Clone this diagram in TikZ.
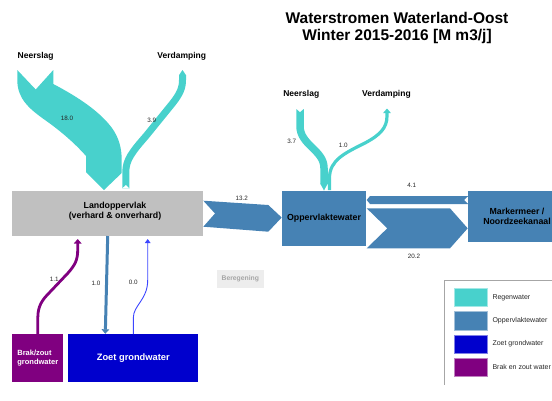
\documentclass[tikz,border=0pt]{standalone}
\usepackage{fontspec}
\setmainfont{Liberation Sans}
\usepackage{tikz}
\usetikzlibrary{arrows.meta,positioning}
\definecolor{wlregen}{RGB}{72,209,204}
\definecolor{wlopp}{RGB}{70,130,180}
\definecolor{wlzoet}{RGB}{0,0,205}
\definecolor{wlbrak}{RGB}{128,0,128}
\definecolor{wlgrey}{RGB}{192,192,192}
\definecolor{wlthin}{RGB}{60,70,255}
\tikzstyle{box} = [inner sep=0pt, align=center, font=\bfseries\fontsize{8.8}{10.5}\selectfont]
\tikzstyle{lbl} = [font=\bfseries\fontsize{8.5}{10}\selectfont]
\tikzstyle{val} = [font=\fontsize{6.3}{7}\selectfont, text=black!85]
\tikzstyle{leg} = [font=\fontsize{7}{8}\selectfont, text=black!85, inner sep=0pt, anchor=west]
\tikzstyle{pipe} = [-{Triangle[width=7.5pt,length=4.5pt]}]

\begin{document}
\begin{tikzpicture}[x=1pt, y=-1pt]
\useasboundingbox (0,0) rectangle (552,400);
% Title
\node[font=\bfseries\fontsize{15.5}{17}\selectfont, align=center] (title) at (397,27.5) {Waterstromen Waterland-Oost\\Winter 2015-2016 [M m3/j]};

% Boxes
\node[box, fill=wlgrey, minimum width=191pt, minimum height=45pt] (land) at (107.5,213.5) {};
\node[box] (landtxt) at (115,211) {Landoppervlak\\(verhard \& onverhard)};
\node[box, fill=wlopp, minimum width=83.4pt, minimum height=55pt] (opp) at (324,218.5) {Oppervlaktewater};
\node[box, fill=wlopp, minimum width=97.4pt, minimum height=50.7pt] (mark) at (517,216.3) {Markermeer /\\Noordzeekanaal};
\node[box, fill=wlbrak, text=white, minimum width=51pt, minimum height=47.4pt, font=\bfseries\fontsize{7.5}{8.6}\selectfont, align=left] (brak) at (37.8,358) {Brak/zout\\grondwater};
\node[box, fill=wlzoet, text=white, minimum width=130pt, minimum height=47.4pt, font=\bfseries\fontsize{9.3}{11}\selectfont] (zoet) at (133.3,358) {Zoet grondwater};
\node[box, fill=black!7, text=black!35, minimum width=47.3pt, minimum height=18.3pt, font=\bfseries\fontsize{6.8}{8}\selectfont] (bereg) at (240.3,279.2) {Beregening};

% Labels
\node[lbl] (nslL) at (35.7,56.7) {Neerslag};
\node[lbl] (vdpL) at (181.7,56.7) {Verdamping};
\node[lbl] (nslR) at (301.3,94.3) {Neerslag};
\node[lbl] (vdpR) at (386.4,94.3) {Verdamping};

% Rain and evaporation on land
\fill[wlregen] (17.3,70) -- (35.7,89.5) -- (53.3,70) -- (53.3,84) .. controls (80,98) and (100,112) .. (112,128) .. controls (119,138) and (121.7,148) .. (121.7,160) -- (121.7,173) -- (104,190) -- (86,172) -- (86,156) .. controls (72,140) and (55,127) .. (45,120) .. controls (28,108) and (17.3,98) .. (17.3,80) -- cycle;
\node[val] (v18) at (67,118) {18.0};
\coordinate (e39a) at (125.8,188.5);
\coordinate (e39b) at (182.5,75);
\draw[wlregen, line width=7pt] (e39a) -- (125.8,172) .. controls (125.8,160) and (132,152) .. (146,136) -- (172,104) .. controls (180,94) and (182.5,88) .. (182.5,80) -- (e39b);
\fill[wlregen] (179,75.2) -- (182.5,70) -- (186,75.2) -- cycle;
\fill[white] (122,188.7) -- (125.8,185) -- (129.6,188.7) -- cycle;
\node[val] (v39) at (151.7,120) {3.9};

% Rain and evaporation on surface water
\coordinate (r37a) at (300,108.3);
\coordinate (r37b) at (324,184);
\draw[wlregen, line width=7.5pt] (r37a) -- (300,126) .. controls (300,145) and (324,150) .. (324,168) -- (r37b);
\fill[wlregen] (320.2,183.5) -- (324,190.5) -- (327.8,183.5) -- cycle;
\fill[white] (295.5,108.2) -- (300,112) -- (304.5,108.2) -- cycle;
\node[val] (v37) at (291.7,141.7) {3.7};
\coordinate (e10a) at (329.5,190);
\coordinate (e10b) at (387,108.5);
\draw[pipe, wlregen, line width=3.2pt] (e10a) -- (329.5,178) .. controls (329.5,160) and (345,153) .. (365,143) .. controls (380,135) and (387,128) .. (387,116) -- (e10b);
\node[val] (v10e) at (343.3,145) {1.0};

% Surface water exchange
\fill[wlopp] (203.3,200.7) -- (268.3,205) -- (281.7,217.5) -- (268.3,231.7) -- (203.3,226.7) -- (215,213.5) -- cycle;
\node[val] (v132) at (241.7,198.3) {13.2};
\fill[wlopp] (370,196) -- (468.3,196) -- (464,200) -- (468.3,204) -- (370,204) -- (366.7,200) -- cycle;
\node[val] (v41) at (411.7,185) {4.1};
\fill[wlopp] (366.7,208.3) -- (450,208.3) -- (467.7,228.3) -- (450,248.3) -- (366.7,248.3) -- (387.3,228.3) -- cycle;
\node[val] (v202) at (414,256) {20.2};

% Groundwater
\coordinate (g11) at (77.7,239);
\draw[pipe, wlbrak, line width=2.8pt] (brak.north) -- (37.8,318) .. controls (37.8,306) and (42,300) .. (50,292) -- (68,273) .. controls (75,265) and (77.7,260) .. (77.7,250) -- (g11);
\node[val] (v11) at (54.3,279) {1.1};
\coordinate (g10a) at (107.7,236);
\coordinate (g10b) at (105.3,333.8);
\draw[pipe, wlopp, line width=3pt] (g10a) -- (g10b);
\node[val] (v10g) at (96,283.3) {1.0};
\coordinate (g00) at (147.7,239);
\draw[-{Triangle[width=5.5pt,length=4pt]}, wlthin, line width=0.9pt] (zoet.north) -- (133.3,318) .. controls (133.3,305) and (147.7,300) .. (147.7,280) -- (g00);
\node[val] (v00) at (133.3,282.3) {0.0};

% Legend
\draw[black!35, line width=0.6pt] (552,280) -- (444.5,280) -- (444.5,385);
\foreach \c/\t [count=\i] in {wlregen/Regenwater, wlopp/Oppervlaktewater, wlzoet/Zoet grondwater, wlbrak/Brak en zout water} {
  \node[fill=\c, draw=\c!50!white, line width=0.5pt, minimum width=32.7pt, minimum height=18.3pt, inner sep=0pt] (sw\i) at (470.7,274.3+23.2*\i) {};
  \node[leg, right=5pt of sw\i] (lg\i) {\t};
}
\end{tikzpicture}
\end{document}
